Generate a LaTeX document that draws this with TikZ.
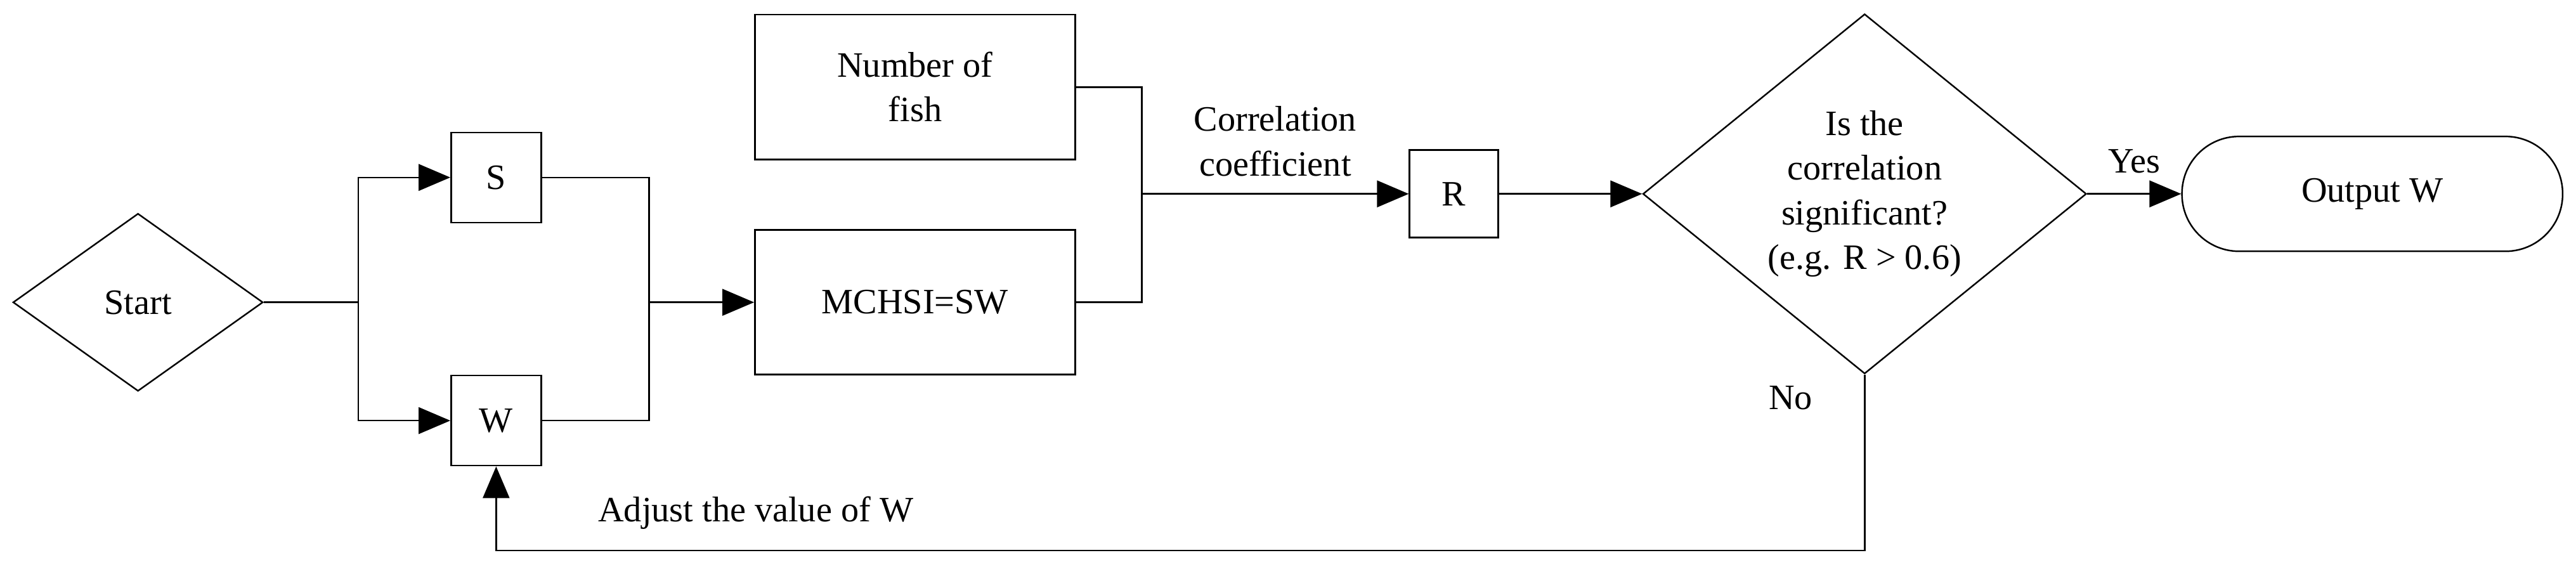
\documentclass[tikz,border=0pt]{standalone}
\usepackage{fontspec}
\setmainfont{Liberation Serif}
\usetikzlibrary{shapes.geometric,arrows.meta}
\begin{document}
\begin{tikzpicture}[x=0.0259cm,y=-0.0259cm,
  every node/.style={font=\fontsize{16}{20}\selectfont},
  base/.style={draw,line width=0.7pt,align=center,inner sep=0pt},
  box/.style={base,rectangle,minimum width=#1},
  dia/.style={base,diamond},
  line/.style={line width=0.7pt},
  arr/.style={line width=0.7pt,-{Triangle[length=0.5cm,width=0.42cm]}}]
\useasboundingbox (0,0) rectangle (1568,345);
\node[dia,minimum width=3.94cm,minimum height=2.8cm] (start) at (84,184) {Start};
\node[box=1.42cm,minimum height=1.42cm] (S) at (302,108) {S};
\node[box=1.42cm,minimum height=1.42cm] (W) at (302,256) {W};
\node[box=5.05cm,minimum height=2.28cm] (fish) at (557,53) {Number of\\fish};
\node[box=5.05cm,minimum height=2.28cm] (mch) at (557,184) {MCHSI=SW};
\node[box=1.4cm,minimum height=1.38cm] (R) at (885,118) {R};
\node[dia,minimum width=6.99cm,minimum height=4.01cm] (dec) at (1135,118) {Is the\\correlation\\significant?\\(e.g. R > 0.6)};
\node[box=6.0cm,minimum height=1.81cm,rounded corners=0.9cm] (out) at (1444,118) {Output W};
\coordinate (j1) at (218,184);
\coordinate (j2) at (395,184);
\coordinate (j3) at (695,118);
\coordinate (b1) at (1135,335);
\coordinate (b2) at (302,335);
\draw[line] (start.east) -- (j1);
\draw[arr] (j1) |- (S.west);
\draw[arr] (j1) |- (W.west);
\draw[line] (S.east) -| (j2);
\draw[line] (W.east) -| (j2);
\draw[arr] (j2) -- (mch.west);
\draw[line] (fish.east) -| (j3);
\draw[line] (mch.east) -| (j3);
\draw[arr] (j3) -- node[above=0.15cm,align=center]{Correlation\\coefficient} (R.west);
\draw[arr] (R.east) -- (dec.west);
\draw[arr] (dec.east) -- node[above=0.2cm]{Yes} (out.west);
\draw[arr] (dec.south) -- (b1) -- (b2) -- (W.south);
\node at (1090,242) {No};
\node at (460,312) {Adjust the value of W};
\end{tikzpicture}
\end{document}
